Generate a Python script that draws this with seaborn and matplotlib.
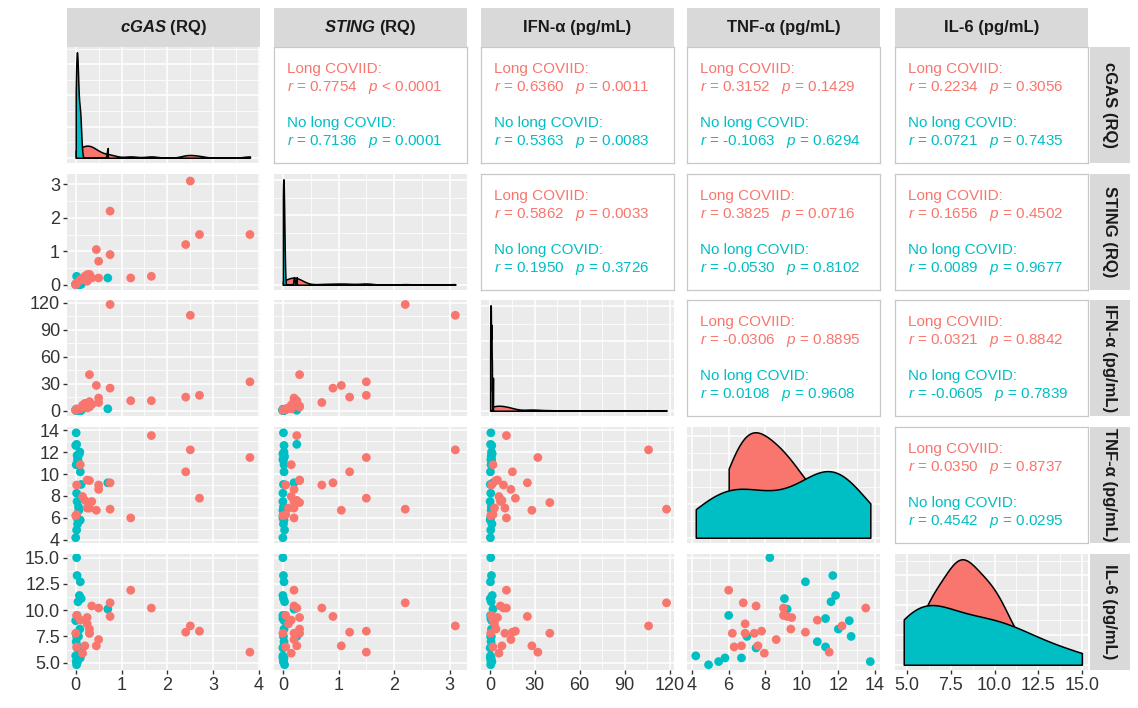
"""
cGAS / STING / 细胞因子 配对矩阵图（ggpairs 风格），Long COVID vs No long COVID。
"""

import matplotlib.pyplot as plt
import matplotlib.ticker as mticker
import pandas as pd
import seaborn as sns

# ---- 数据（从原图读取，按受试者对齐） ----
GROUPS = ["No long COVID", "Long COVID"]
PALETTE = {"Long COVID": "#F8766D", "No long COVID": "#00BFC4"}

cgas_long = [2.50, 0.75, 3.80, 1.65, 2.40, 2.70, 1.20, 0.45, 0.75, 0.50, 0.30, 0.10,
             0.02, 0.25, 0.25, 0.00, 0.30, 0.02, 0.20, 0.15, 0.50, 0.30, 0.35]
sting_long = [3.10, 2.20, 1.50, 0.25, 1.20, 1.50, 0.20, 1.05, 0.90, 0.70, 0.30, 0.15,
              0.05, 0.30, 0.10, 0.00, 0.20, 0.05, 0.25, 0.15, 0.20, 0.30, 0.20]
ifn_long = [106, 118, 32, 11, 15, 17, 11, 28, 25, 9, 40, 2,
            1, 5, 3, 0.5, 10, 2, 8, 6, 14, 4, 7]
tnf_long = [12.2, 6.8, 11.5, 13.5, 10.2, 7.8, 6.0, 6.7, 9.2, 9.0, 7.4, 10.85,
            9.0, 9.45, 6.9, 6.2, 6.9, 6.3, 7.6, 7.95, 8.6, 9.4, 7.5]
il6_long = [8.5, 10.7, 6.0, 10.2, 7.9, 8.0, 11.9, 6.6, 9.4, 10.2, 7.8, 9.05,
            9.5, 9.3, 8.7, 7.8, 7.8, 6.5, 6.6, 5.9, 7.2, 8.2, 10.4]

cgas_no = [0.02, 0.03, 0.10, 0.08, 0.05, 0.12, 0.70, 0.04, 0.00, 0.02, 0.06,
           0.03, 0.01, 0.05, 0.00, 0.02, 0.04, 0.10, 0.07, 0.01, 0.03, 0.09]
sting_no = [0.00, 0.01, 0.02, 0.00, 0.03, 0.01, 0.20, 0.00, 0.02, 0.25, 0.01,
            0.00, 0.02, 0.01, 0.00, 0.03, 0.01, 0.02, 0.00, 0.01, 0.00, 0.02]
ifn_no = [0.5, 1.0, 0.3, 1.5, 0.8, 0.2, 2.0, 0.6, 1.2, 0.4, 0.9,
          0.1, 0.7, 1.1, 0.3, 0.5, 1.3, 0.2, 0.8, 0.6, 0.4, 1.0]
tnf_no = [8.25, 11.7, 10.2, 11.85, 11.6, 9.05, 9.2, 11.3, 12.6, 12.7, 7.0,
          7.5, 10.85, 11.3, 4.2, 4.9, 5.45, 5.8, 6.7, 13.75, 6.0, 12.0]
il6_no = [15.0, 13.3, 12.7, 11.4, 10.8, 11.1, 10.1, 9.2, 9.0, 7.5, 7.5,
          6.4, 7.0, 6.5, 5.65, 4.8, 5.1, 5.45, 5.45, 5.1, 9.5, 8.2]

VARS = ["cgas", "sting", "ifn", "tnf", "il6"]
COL_LABELS = [r"$\mathbf{cGAS}$ (RQ)", r"$\mathbf{STING}$ (RQ)", "IFN-α (pg/mL)",
              "TNF-α (pg/mL)", "IL-6 (pg/mL)"]
ROW_LABELS = ["cGAS (RQ)", "STING (RQ)", "IFN-α (pg/mL)", "TNF-α (pg/mL)", "IL-6 (pg/mL)"]

TICKS = {
    "cgas": [0, 1, 2, 3, 4],
    "sting": [0, 1, 2, 3],
    "ifn": [0, 30, 60, 90, 120],
    "tnf": [4, 6, 8, 10, 12, 14],
    "il6": [5.0, 7.5, 10.0, 12.5, 15.0],
}
LIMS = {
    "cgas": (-0.19, 4.02),
    "sting": (-0.16, 3.31),
    "ifn": (-6, 123),
    "tnf": (3.72, 14.28),
    "il6": (4.3, 15.35),
}
BW = {"cgas": 0.25, "sting": 0.3, "ifn": 0.25, "tnf": 1.0, "il6": 0.95}

# 上三角相关系数文字 (row, col) -> (r_long, p_long, r_no, p_no)
CORR = {
    (0, 1): ("0.7754", "< 0.0001", "0.7136", "= 0.0001"),
    (0, 2): ("0.6360", "= 0.0011", "0.5363", "= 0.0083"),
    (0, 3): ("0.3152", "= 0.1429", "-0.1063", "= 0.6294"),
    (0, 4): ("0.2234", "= 0.3056", "0.0721", "= 0.7435"),
    (1, 2): ("0.5862", "= 0.0033", "0.1950", "= 0.3726"),
    (1, 3): ("0.3825", "= 0.0716", "-0.0530", "= 0.8102"),
    (1, 4): ("0.1656", "= 0.4502", "0.0089", "= 0.9677"),
    (2, 3): ("-0.0306", "= 0.8895", "0.0108", "= 0.9608"),
    (2, 4): ("0.0321", "= 0.8842", "-0.0605", "= 0.7839"),
    (3, 4): ("0.0350", "= 0.8737", "0.4542", "= 0.0295"),
}

# ---- 版式（像素） ----
FIG_W, FIG_H = 1138, 708
PANEL_LEFT = [67, 274, 481, 687, 895]
PANEL_TOP = [47, 174, 300, 427, 554]
PANEL_W, PANEL_H = 193, 116
STRIP_TOP, STRIP_H = 8, 39
RSTRIP_LEFT, RSTRIP_W = 1090, 40
BG = "#EBEBEB"
STRIP_BG = "#D9D9D9"
TICK_COLOR = "#333333"


def rect(x, y, w, h):
    return [x / FIG_W, 1 - (y + h) / FIG_H, w / FIG_W, h / FIG_H]


def style_grid(ax):
    ax.set_facecolor(BG)
    for s in ax.spines.values():
        s.set_visible(False)
    ax.xaxis.set_minor_locator(mticker.AutoMinorLocator(2))
    ax.yaxis.set_minor_locator(mticker.AutoMinorLocator(2))
    ax.grid(which="major", color="white", linewidth=1.1)
    ax.grid(which="minor", color="white", linewidth=0.55)
    ax.set_axisbelow(True)
    ax.set_xlabel("")
    ax.set_ylabel("")


def main():
    plt.rcParams["font.family"] = ["Liberation Sans", "DejaVu Sans"]
    plt.rcParams["mathtext.fontset"] = "custom"
    plt.rcParams["mathtext.it"] = "Liberation Sans:italic"
    plt.rcParams["mathtext.rm"] = "Liberation Sans"
    plt.rcParams["mathtext.bf"] = "Liberation Sans:italic:bold"

    long_df = pd.DataFrame({"cgas": cgas_long, "sting": sting_long, "ifn": ifn_long,
                            "tnf": tnf_long, "il6": il6_long})
    long_df["group"] = "Long COVID"
    no_df = pd.DataFrame({"cgas": cgas_no, "sting": sting_no, "ifn": ifn_no,
                          "tnf": tnf_no, "il6": il6_no})
    no_df["group"] = "No long COVID"
    df = pd.concat([no_df, long_df], ignore_index=True)

    fig = plt.figure(figsize=(FIG_W / 100, FIG_H / 100), dpi=100)

    n = len(VARS)
    for i in range(n):
        for j in range(n):
            ax = fig.add_axes(rect(PANEL_LEFT[j], PANEL_TOP[i], PANEL_W, PANEL_H))
            xv, yv = VARS[j], VARS[i]
            if i < j:
                # 上三角：相关系数文字
                ax.set_facecolor("white")
                for s in ax.spines.values():
                    s.set_color("#C8C8C8")
                    s.set_linewidth(0.9)
                ax.set_xticks([])
                ax.set_yticks([])
                rl, pl, rn, pn = CORR[(i, j)]
                kw = dict(transform=ax.transAxes, fontsize=11, va="center", ha="left")
                ax.text(0.065, 0.81, "Long COVIID:", color=PALETTE["Long COVID"], **kw)
                ax.text(0.065, 0.655, rf"$\it{{r}}$ = {rl}   $\it{{p}}$ {pl}",
                        color=PALETTE["Long COVID"], **kw)
                ax.text(0.065, 0.345, "No long COVID:", color=PALETTE["No long COVID"], **kw)
                ax.text(0.065, 0.185, rf"$\it{{r}}$ = {rn}   $\it{{p}}$ {pn}",
                        color=PALETTE["No long COVID"], **kw)
                continue

            if i == j:
                # 对角线：分组密度（红先画，青覆盖）
                for grp in ["Long COVID", "No long COVID"]:
                    sns.kdeplot(data=df[df["group"] == grp], x=xv, fill=True,
                                color=PALETTE[grp], alpha=1, edgecolor="black",
                                linewidth=1.1, cut=0, bw_adjust=BW[xv], ax=ax)
                top = max(p.vertices[:, 1].max()
                          for c in ax.collections for p in c.get_paths())
                ax.set_ylim(-0.05 * top, 1.05 * top)
                ax.yaxis.set_major_locator(mticker.MaxNLocator(4))
            else:
                sns.scatterplot(data=df, x=xv, y=yv, hue="group", hue_order=GROUPS,
                                palette=PALETTE, s=40, linewidth=0, legend=False, ax=ax)
                ax.set_yticks(TICKS[yv])
                ax.set_ylim(*LIMS[yv])

            ax.set_xticks(TICKS[xv])
            ax.set_xlim(*LIMS[xv])
            style_grid(ax)
            if xv == "il6":
                ax.xaxis.set_major_formatter(mticker.FormatStrFormatter("%.1f"))
            if yv == "il6":
                ax.yaxis.set_major_formatter(mticker.FormatStrFormatter("%.1f"))

            show_x = i == n - 1
            show_y = j == 0 and i > 0
            ax.tick_params(axis="x", which="major", bottom=show_x, labelbottom=show_x,
                           length=3, width=1, color=TICK_COLOR, labelcolor=TICK_COLOR,
                           labelsize=13, pad=2)
            ax.tick_params(axis="y", which="major", left=show_y, labelleft=show_y,
                           length=3, width=1, color=TICK_COLOR, labelcolor=TICK_COLOR,
                           labelsize=13, pad=2)
            ax.tick_params(which="minor", length=0)

    # 列标签条
    for j, lab in enumerate(COL_LABELS):
        sax = fig.add_axes(rect(PANEL_LEFT[j], STRIP_TOP, PANEL_W, STRIP_H))
        sax.set_facecolor(STRIP_BG)
        sax.set_xticks([])
        sax.set_yticks([])
        for s in sax.spines.values():
            s.set_visible(False)
        sax.text(0.5, 0.5, lab, ha="center", va="center", fontsize=12,
                 fontweight="bold", color="#1A1A1A", transform=sax.transAxes)

    # 行标签条
    for i, lab in enumerate(ROW_LABELS):
        sax = fig.add_axes(rect(RSTRIP_LEFT, PANEL_TOP[i], RSTRIP_W, PANEL_H))
        sax.set_facecolor(STRIP_BG)
        sax.set_xticks([])
        sax.set_yticks([])
        for s in sax.spines.values():
            s.set_visible(False)
        sax.text(0.5, 0.5, lab, ha="center", va="center", fontsize=12, rotation=-90,
                 fontweight="bold", color="#1A1A1A", transform=sax.transAxes)

    fig.savefig("out.png", dpi=100, facecolor="white")
    plt.close(fig)


if __name__ == "__main__":
    main()
